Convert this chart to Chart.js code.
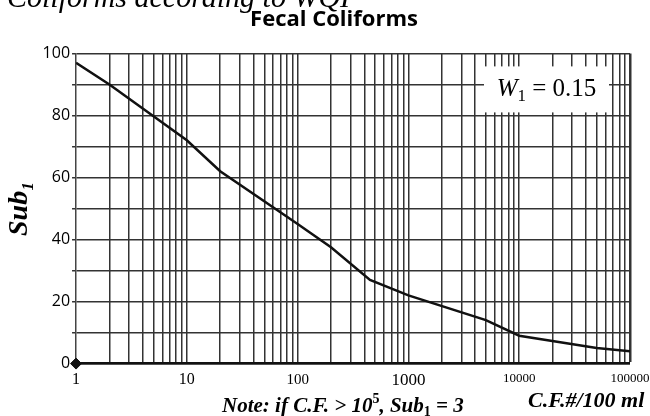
<!DOCTYPE html>
<html>
<head>
<meta charset="utf-8">
<script src="https://cdn.jsdelivr.net/npm/chart.js@4"></script>
<style>
  html, body { margin: 0; padding: 0; background: #fff; }
</style>
</head>
<body>
<canvas id="dataPlot" width="650" height="416"></canvas>
<script>
// curve (C.F. count per 100 ml -> Sub1)
const cfCounts = [1, 2, 10, 20, 100, 200, 450, 1000, 5000, 10000, 50000, 100000];
const subValues = [97, 90, 72, 62, 45, 37.5, 27, 22, 14, 9, 5, 4];
const originMarker = [{ x: 1, y: 0 }];

const decades = [1, 10, 100, 1000, 10000, 100000];
const xLabelSizes = [16, 16, 15, 17, 13, 13];
const yTickLabels = [0, 20, 40, 60, 80, 100];

// log grid: 1..9 in every decade
const gridValues = [];
decades.forEach(d => {
  for (let m = 1; m <= 9; m++) {
    if (d * m <= 100000) gridValues.push(d * m);
  }
});

const ink = '#111';
const gridInk = '#333';

// draws a row of text pieces (for sub/superscripts)
function drawRuns(ctx, x, y, runs, align) {
  let total = 0;
  runs.forEach(r => { ctx.font = r.font; total += ctx.measureText(r.t).width; });
  let cx = align === 'center' ? x - total / 2 : x;
  ctx.textAlign = 'left';
  ctx.textBaseline = 'alphabetic';
  runs.forEach(r => {
    ctx.font = r.font;
    ctx.fillText(r.t, cx, y + (r.dy || 0));
    cx += ctx.measureText(r.t).width;
  });
}

const extraText = {
  id: 'extraText',
  afterDatasetsDraw(chart) {
    const ctx = chart.ctx;
    const a = chart.chartArea;
    const bx = a.right - 146, by = a.top + 13, bw = 125, bh = 46;
    ctx.save();
    ctx.fillStyle = '#fff';
    ctx.fillRect(bx, by, bw, bh);
    ctx.fillStyle = '#000';
    drawRuns(ctx, bx + bw / 2, by + bh / 2 + 7, [
      { t: 'W', font: 'italic 25px "Liberation Serif"' },
      { t: '1', font: '17px "Liberation Serif"', dy: 5 },
      { t: ' = 0.15', font: '25px "Liberation Serif"' }
    ], 'center');
    ctx.restore();
  },
  afterDraw(chart) {
    const ctx = chart.ctx;
    ctx.save();
    ctx.fillStyle = '#000';
    // caption of the page above the figure, cut by the frame
    drawRuns(ctx, 7, 7, [
      { t: 'Coliforms according to WQI', font: 'italic 30px "Liberation Serif"' }
    ], 'left');
    const bi = 'bold italic 21px "Liberation Serif"';
    drawRuns(ctx, 222, 412, [
      { t: 'Note: if C.F. > 10', font: bi },
      { t: '5', font: 'bold 14px "Liberation Serif"', dy: -9 },
      { t: ', Sub', font: bi },
      { t: '1', font: 'bold 14px "Liberation Serif"', dy: 4 },
      { t: ' = 3', font: bi }
    ], 'left');
    drawRuns(ctx, 528, 407, [
      { t: 'C.F.#/100 ml', font: 'bold italic 22px "Liberation Serif"' }
    ], 'left');
    ctx.restore();
  }
};

new Chart(document.getElementById('dataPlot'), {
  type: 'line',
  data: {
    datasets: [{
      data: cfCounts.map((x, i) => ({ x: x, y: subValues[i] })),
      borderColor: ink,
      borderWidth: 2.5,
      pointRadius: 0,
      tension: 0,
      fill: false
    }, {
      data: originMarker,
      pointStyle: 'rectRot',
      pointRadius: 5.5,
      backgroundColor: ink,
      borderColor: ink,
      showLine: false,
      clip: false
    }]
  },
  options: {
    responsive: false,
    animation: false,
    layout: { padding: { left: 2, right: -16, top: 0, bottom: 18 } },
    plugins: {
      legend: { display: false },
      tooltip: { enabled: false },
      title: {
        display: true,
        text: 'Fecal Coliforms',
        color: '#000',
        font: { family: 'Open Sans', size: 22, weight: 'bold' },
        padding: { top: 7, bottom: 20 }
      }
    },
    scales: {
      x: {
        type: 'logarithmic',
        min: 1,
        max: 100000,
        afterBuildTicks: axis => { axis.ticks = gridValues.map(v => ({ value: v })); },
        afterFit: axis => { axis.paddingRight = 20; },
        ticks: {
          autoSkip: false,
          maxRotation: 0,
          padding: 7,
          color: '#000',
          callback: v => decades.includes(v) ? String(v) : '',
          font: c => ({
            family: 'Liberation Serif',
            size: c.tick && decades.includes(c.tick.value) ? xLabelSizes[decades.indexOf(c.tick.value)] : 14
          })
        },
        grid: {
          color: gridInk,
          drawTicks: false,
          lineWidth: c => {
            if (!c.tick) return 1.5;
            if (c.tick.value === 1) return 0;
            return c.tick.value === 100000 ? 2.5 : 1.5;
          }
        },
        border: { display: true, color: ink, width: 2.5 }
      },
      y: {
        min: 0,
        max: 100,
        ticks: {
          stepSize: 10,
          padding: 2,
          color: '#000',
          font: { family: 'Open Sans', size: 16 },
          callback: v => yTickLabels.includes(v) ? String(v) : ''
        },
        grid: { color: gridInk, lineWidth: 1.5, tickLength: 4 },
        border: { display: true, color: '#444', width: 1.5 },
        title: {
          display: true,
          text: 'Sub₁',
          color: '#000',
          font: { family: 'Liberation Serif', size: 28, weight: 'bold', style: 'italic' },
          padding: { top: 1, bottom: 4 }
        }
      }
    }
  },
  plugins: [extraText]
});
</script>
</body>
</html>
